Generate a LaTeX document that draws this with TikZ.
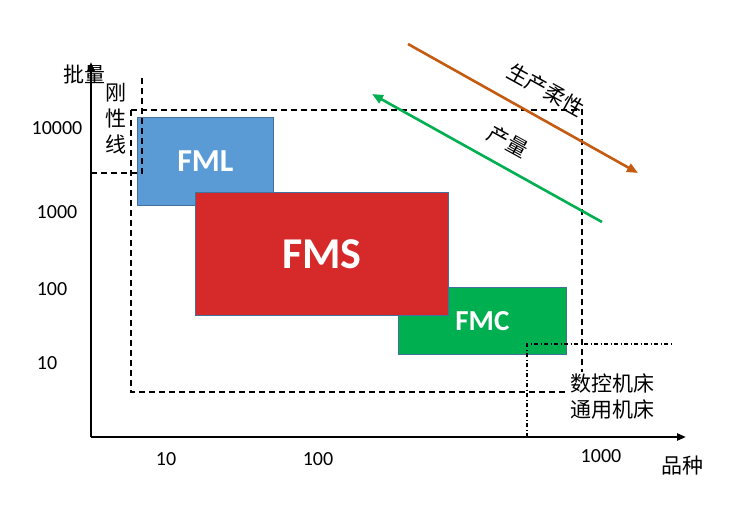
\documentclass[tikz,border=0pt]{standalone}
\usepackage{fontspec}
\setmainfont{Carlito}
\newfontfamily\cjk{Noto Sans CJK SC}
\usetikzlibrary{arrows.meta}
\definecolor{fmlblue}{HTML}{5B9BD5}
\definecolor{fmsred}{HTML}{D62A2A}
\definecolor{fmcgreen}{HTML}{00B050}
\definecolor{edgeblue}{HTML}{41719C}
\definecolor{orangeA}{HTML}{C55A11}
\begin{document}
\begin{tikzpicture}[x=1pt,y=-1pt,
  box/.style={draw=edgeblue, line width=0.8pt, anchor=north west, inner sep=0pt,
    font=\bfseries, text=white},
  axisline/.style={line width=2.4pt, -{Triangle[length=9pt,width=7pt]}},
  dashline/.style={line width=2pt, dash pattern=on 6pt off 4pt},
  dotline/.style={line width=1.6pt, dash pattern=on 4pt off 2.5pt on 1pt off 2.5pt},
  trend/.style={line width=2.6pt, -{Triangle[length=11pt,width=9pt]}},
  num/.style={font=\fontsize{20}{22}\selectfont},
  cn/.style={font=\cjk\fontsize{21}{24}\selectfont},
]
\useasboundingbox (0,0) rectangle (747,524);
% boxes
\node[box, fill=fmlblue, minimum width=136pt, minimum height=88pt,
  font=\bfseries\fontsize{32}{34}\selectfont] (fml) at (137,117) {FML};
\node[box, fill=fmcgreen, minimum width=168pt, minimum height=67pt,
  font=\bfseries\fontsize{29}{31}\selectfont] (fmc) at (398,287) {FMC};
\node[box, fill=fmsred, minimum width=253pt, minimum height=123pt,
  font=\bfseries\fontsize{44}{46}\selectfont] (fms) at (195,192) {FMS};
% axes
\coordinate (O) at (91,437);
\coordinate (ytop) at (91,62);
\coordinate (xend) at (686,437);
\draw[axisline] (O) -- (ytop);
\draw[axisline] (O) -- (xend);
% big dashed region
\coordinate (r1) at (131,110);
\coordinate (r2) at (582,392);
\draw[dashline] (r1) rectangle (r2);
% rigid line
\coordinate (g1) at (91,173);
\coordinate (g2) at (142,173);
\coordinate (g3) at (142,75);
\draw[dashline] (g1) -- (g2) -- (g3);
% CNC line
\coordinate (c1) at (527,437);
\coordinate (c2) at (527,344);
\coordinate (c3) at (672,344);
\draw[dotline] (c1) -- (c2) -- (c3);
% machine labels
\node[cn, fill=white, inner sep=1pt] (nc) at (612,383) {数控机床};
\node[cn, fill=white, inner sep=1pt] (gen) at (612,410) {通用机床};
% trend arrows
\coordinate (o1) at (408,44);
\coordinate (o2) at (638,173);
\draw[trend, orangeA] (o1) -- (o2);
\coordinate (gA) at (602,222);
\coordinate (gB) at (372,94);
\draw[trend, fmcgreen] (gA) -- (gB);
\node[cn, rotate=-29] (flex) at (546,90) {生产柔性};
\node[cn, rotate=-29] (yield) at (508,142) {产量};
% axis labels
\node[cn] (ylab) at (84,74) {批量};
\node[cn] (xlab) at (682,466) {品种};
\node[cn, align=center, inner sep=0pt] (rigid) at (116,119)
  {刚\\[2pt]性\\[2pt]线};
% tick labels
\node[num] (y4) at (57,128) {10000};
\node[num] (y3) at (57,212) {1000};
\node[num] (y2) at (52,289) {100};
\node[num] (y1) at (47,363) {10};
\node[num] (x1) at (166,459) {10};
\node[num] (x2) at (318,459) {100};
\node[num] (x3) at (601,456) {1000};
\end{tikzpicture}
\end{document}
